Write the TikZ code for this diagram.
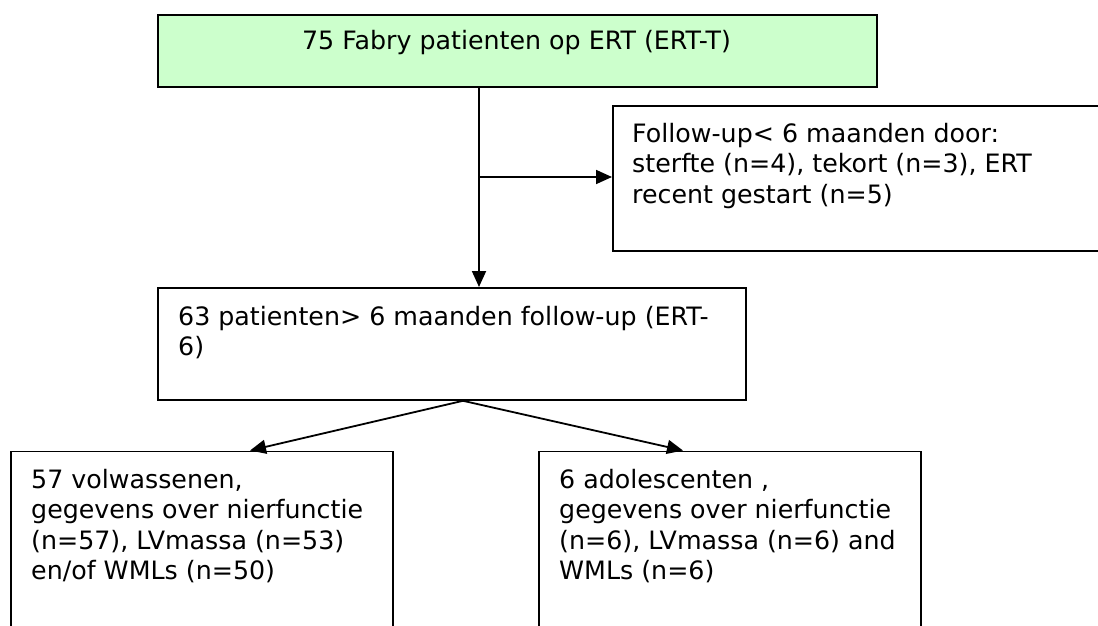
\documentclass[tikz,border=0pt]{standalone}
\usepackage{fontspec}
\setmainfont{DejaVu Sans}
\usetikzlibrary{arrows.meta,calc}
\definecolor{boxgreen}{RGB}{204,255,204}
\newcommand{\fl}{\rule{0pt}{20pt}}
\begin{document}
\begin{tikzpicture}[x=1pt,y=-1pt,
  box/.style={draw, line width=1.8pt, inner sep=0pt, anchor=north west},
  txt/.style={inner sep=0pt, anchor=north west, align=left, font=\fontsize{25.3}{30.5}\selectfont},
  arr/.style={line width=1.8pt, -{Triangle[length=16pt,width=14pt]}}]
\useasboundingbox (0,0) rectangle (1098,626);
% boxes
\node[box, fill=boxgreen, minimum width=719pt, minimum height=72pt] (top) at (157,14) {};
\node[box, minimum width=500pt, minimum height=145pt] (excl) at (612,105) {};
\node[box, minimum width=588pt, minimum height=112pt] (mid) at (157,287) {};
\node[box, minimum width=382pt, minimum height=260pt] (adult) at (10,450.5) {};
\node[box, minimum width=382pt, minimum height=260pt] (adol) at (538,450.5) {};
% texts
\node[txt, anchor=base] (ttop) at (516.5,50) {75 Fabry patienten op ERT (ERT-T)};
\node[txt] (texcl) at (632,122) {\fl Follow-up< 6 maanden door:\\sterfte (n=4), tekort (n=3), ERT\\recent gestart (n=5)};
\node[txt] (tmid) at (178,305) {\fl 63 patienten> 6 maanden follow-up (ERT-\\6)};
\node[txt] (tadult) at (31,468) {\fl 57 volwassenen,\\gegevens over nierfunctie\\(n=57), LVmassa (n=53)\\en/of WMLs (n=50)};
\node[txt] (tadol) at (559,468) {\fl 6 adolescenten ,\\gegevens over nierfunctie\\(n=6), LVmassa (n=6) and\\WMLs (n=6)};
% connectors
\coordinate (vx) at (479,0);
\coordinate (br) at (479,177);
\coordinate (mx) at (463,0);
\coordinate (ax) at (250,0);
\coordinate (dx) at (683,0);
\draw[arr] (top.south -| vx) -- (mid.north -| vx);
\draw[arr] (br) -- (br -| excl.west);
\draw[arr] (mid.south -| mx) -- (adult.north -| ax);
\draw[arr] (mid.south -| mx) -- (adol.north -| dx);
\end{tikzpicture}
\end{document}
